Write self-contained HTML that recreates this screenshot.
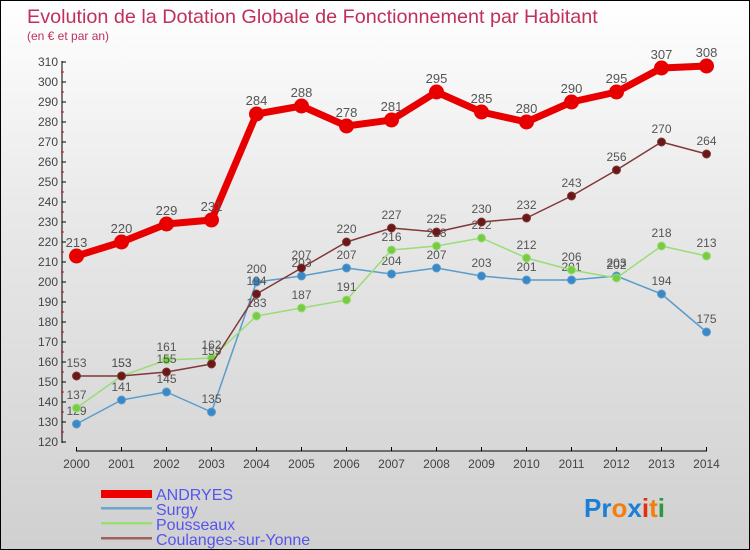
<!DOCTYPE html>
<html><head><meta charset="utf-8"><style>
body{margin:0}
#c{position:relative;width:750px;height:550px;box-sizing:border-box;border:1px solid #000;background:linear-gradient(#fff,#e8e8e8 40%,#d0d0d0);font-family:"Liberation Sans",sans-serif;overflow:hidden}
</style></head><body>
<div id="c">
<svg id="s" width="750" height="550" style="position:absolute;left:0;top:0">
<text x="26" y="22" font-size="19.8" fill="#c0305a">Evolution de la Dotation Globale de Fonctionnement par Habitant</text>
<text x="26" y="39" font-size="12" fill="#c0305a">(en € et par an)</text>
<g id="axes"></g><g id="series"></g>
<g>
<rect x="100" y="489" width="51" height="8" fill="#e00"/>
<text x="155" y="499" font-size="16" fill="#5555ee">ANDRYES</text>
<rect x="100" y="506" width="51" height="2.5" fill="#6fa6cf"/>
<text x="155" y="514" font-size="16" fill="#5555ee">Surgy</text>
<rect x="100" y="521" width="51" height="2.5" fill="#99dd77"/>
<text x="155" y="529" font-size="16" fill="#5555ee">Pousseaux</text>
<rect x="100" y="536" width="51" height="2.5" fill="#a06060"/>
<text x="155" y="544" font-size="16" fill="#5555ee">Coulanges-sur-Yonne</text>
</g>
<text x="583" y="516" font-size="26" font-weight="bold"><tspan fill="#1a7fd6">Pr</tspan><tspan fill="#f07f10">o</tspan><tspan fill="#1a7fd6">x</tspan><tspan fill="#e03010">i</tspan><tspan fill="#f07f10">t</tspan><tspan fill="#2a9a3a">i</tspan></text>
</svg>
</div>
<script>
const years=[2000,2001,2002,2003,2004,2005,2006,2007,2008,2009,2010,2011,2012,2013,2014];
const andryes=[213,220,229,231,284,288,278,281,295,285,280,290,295,307,308];
const surgy=[129,141,145,135,200,203,207,204,207,203,201,201,203,194,175];
const pousseaux=[137,153,161,162,183,187,191,216,218,222,212,206,202,218,213];
const coulanges=[153,153,155,159,194,207,220,227,225,230,232,243,256,270,264];
const yTicks=[120,130,140,150,160,170,180,190,200,210,220,230,240,250,260,270,280,290,300,310];
const NS="http://www.w3.org/2000/svg";
const X=i=>75.5+i*45;
const Y=v=>441-(v-120)*2;
function mk(t,a,p){const e=document.createElementNS(NS,t);for(const k in a)e.setAttribute(k,a[k]);p.appendChild(e);return e;}
const ax=document.getElementById('axes');
let l=mk('line',{x1:61,y1:60,x2:61,y2:442,stroke:'#000'},ax);


l=mk('line',{x1:75,y1:450,x2:706,y2:450,stroke:'#000'},ax);


yTicks.forEach((v,i)=>{
  mk('line',{x1:61,y1:Y(v),x2:65,y2:Y(v),stroke:'#000'},ax);
  if(i<yTicks.length-1)mk('line',{x1:60,y1:Y(v+5),x2:63,y2:Y(v+5),stroke:'#e00'},ax);
  const t=mk('text',{x:57,y:Y(v)+4,'font-size':12,'text-anchor':'end',fill:'#444'},ax);
  t.textContent=v;
  
  
});
years.forEach((y,i)=>{
  mk('line',{x1:X(i),y1:446,x2:X(i),y2:450,stroke:'#000'},ax);
  const t=mk('text',{x:X(i),y:467,'font-size':12,'text-anchor':'middle',fill:'#444'},ax);
  t.textContent=y;
  
  
});
const sg=document.getElementById('series');
function draw(vals,name,color,w,r,dot,fs){
  const g=mk('g',{},sg);
  
  
  const pts=vals.map((v,i)=>X(i)+','+Y(v)).join(' ');
  mk('polyline',{points:pts,fill:'none',stroke:color,'stroke-width':w,'stroke-linejoin':'round'},g);
  vals.forEach((v,i)=>{
    const c=mk('circle',{cx:X(i),cy:Y(v),r:r,fill:dot,stroke:color,'stroke-width':1},g);
    
    
    const t=mk('text',{x:X(i),y:Y(v)-9,'font-size':fs,'text-anchor':'middle',fill:'#555'},g);
    t.textContent=v;
    
    
  });
}
draw(surgy,'surgy','#5a9ccc',1.5,4,'#3a88c8',12);
draw(pousseaux,'pousseaux','#99dd77',1.5,4,'#77cc44',12);
draw(coulanges,'coulanges','#803838',1.5,4,'#6a1818',12);
draw(andryes,'andryes','#e80000',7,7,'#e80000',13);
</script>
</body></html>
